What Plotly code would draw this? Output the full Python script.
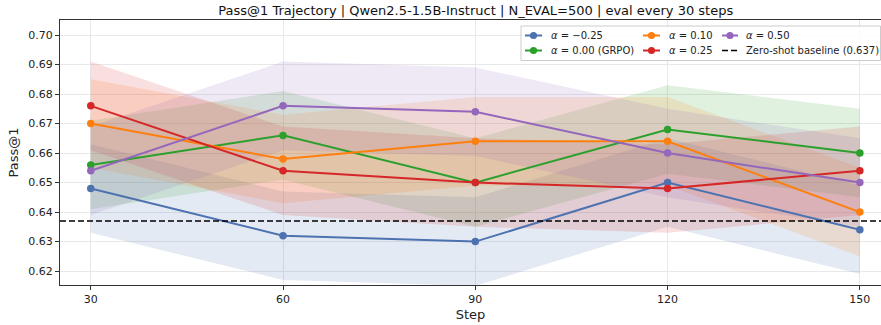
import plotly.graph_objects as go

# ---------------- data ----------------
steps = [30, 60, 90, 120, 150]
series_names = ["α = −0.25", "α = 0.00 (GRPO)", "α = 0.10", "α = 0.25", "α = 0.50"]
legend_labels = ["<i>α</i> = −0.25", "<i>α</i> = 0.00 (GRPO)", "<i>α</i> = 0.10",
                 "<i>α</i> = 0.25", "<i>α</i> = 0.50"]
pass_alpha_m025 = [0.648, 0.632, 0.630, 0.650, 0.634]
pass_alpha_000 = [0.656, 0.666, 0.650, 0.668, 0.660]
pass_alpha_010 = [0.670, 0.658, 0.664, 0.664, 0.640]
pass_alpha_025 = [0.676, 0.654, 0.650, 0.648, 0.654]
pass_alpha_050 = [0.654, 0.676, 0.674, 0.660, 0.650]
# half-width of the shaded band around each series
band_m025 = [0.015, 0.015, 0.015, 0.015, 0.015]
band_000 = [0.015, 0.015, 0.015, 0.015, 0.015]
band_010 = [0.015, 0.015, 0.015, 0.015, 0.015]
band_025 = [0.015, 0.015, 0.015, 0.015, 0.015]
band_050 = [0.015, 0.015, 0.015, 0.015, 0.015]
baseline = 0.637
baseline_label = "Zero-shot baseline (0.637)"
y_ticks = [0.62, 0.63, 0.64, 0.65, 0.66, 0.67, 0.68, 0.69, 0.70]

values = [pass_alpha_m025, pass_alpha_000, pass_alpha_010, pass_alpha_025, pass_alpha_050]
bands = [band_m025, band_000, band_010, band_025, band_050]
colors = ["#4C72B0", "#2ca02c", "#ff7f0e", "#d62728", "#9467bd"]
colors_rgb = [(76, 114, 176), (44, 160, 44), (255, 127, 14), (214, 39, 40), (148, 103, 189)]

FONT = "DejaVu Sans"
W, H = 881, 325
L, R, T, B = 60, 0, 20, 40
X_RANGE = [25.2, 153.3]

fig = go.Figure()

# shaded bands first (below every line)
for v, b, rgb in zip(values, bands, colors_rgb):
    upper = [a + d for a, d in zip(v, b)]
    lower = [a - d for a, d in zip(v, b)]
    fig.add_trace(go.Scatter(
        x=steps + steps[::-1], y=upper + lower[::-1], fill="toself",
        fillcolor=f"rgba({rgb[0]},{rgb[1]},{rgb[2]},0.15)", line=dict(width=0),
        mode="lines", hoverinfo="skip", showlegend=False))

for name, v, c in zip(series_names, values, colors):
    fig.add_trace(go.Scatter(
        x=steps, y=v, mode="lines+markers", name=name,
        line=dict(color=c, width=2), marker=dict(color=c, size=7.5),
        showlegend=False))

fig.add_trace(go.Scatter(
    x=X_RANGE, y=[baseline, baseline], mode="lines", name=baseline_label,
    line=dict(color="black", width=1.6, dash="6px,3px"), showlegend=False))

# -------- manual legend (matplotlib style, 3 columns) --------
pw = W - L - R
ph = H - T - B


def px(xp):
    return (xp - L) / pw


def py(yp):
    return (H - B - yp) / ph


shapes = []
annotations = []
shapes.append(dict(type="rect", xref="paper", yref="paper",
                   x0=px(521), x1=px(880.5), y0=py(60.5), y1=py(26),
                   line=dict(color="#cccccc", width=1), fillcolor="rgba(255,255,255,0.85)",
                   layer="above"))

col_handle = [(525, 542), (643, 660), (722, 738)]
col_text = [549, 667, 744]
row_y = [35.5, 50.5]
entries = [(0, 0, 0), (0, 1, 1), (1, 0, 2), (1, 1, 3), (2, 0, 4)]
for col, row, idx in entries:
    hx0, hx1 = col_handle[col]
    yy = row_y[row]
    shapes.append(dict(type="line", xref="paper", yref="paper",
                       x0=px(hx0), x1=px(hx1), y0=py(yy), y1=py(yy),
                       line=dict(color=colors[idx], width=2), layer="above"))
    cx = (hx0 + hx1) / 2
    r = 3.6
    shapes.append(dict(type="circle", xref="paper", yref="paper",
                       x0=px(cx - r), x1=px(cx + r), y0=py(yy + r), y1=py(yy - r),
                       line=dict(color=colors[idx], width=0), fillcolor=colors[idx],
                       layer="above"))
    annotations.append(dict(xref="paper", yref="paper", x=px(col_text[col]), y=py(yy),
                            text=legend_labels[idx], showarrow=False, xanchor="left",
                            yanchor="middle", font=dict(family=FONT, size=10, color="#222")))
# baseline legend entry
hx0, hx1 = col_handle[2]
yy = row_y[1]
shapes.append(dict(type="line", xref="paper", yref="paper",
                   x0=px(hx0), x1=px(hx1), y0=py(yy), y1=py(yy),
                   line=dict(color="black", width=1.6, dash="6px,3px"), layer="above"))
annotations.append(dict(xref="paper", yref="paper", x=px(col_text[2]), y=py(yy),
                        text=baseline_label, showarrow=False, xanchor="left",
                        yanchor="middle", font=dict(family=FONT, size=10, color="#222")))

fig.update_layout(
    width=W, height=H,
    margin=dict(l=L, r=R, t=T, b=B, autoexpand=False),
    paper_bgcolor="white", plot_bgcolor="white",
    font=dict(family=FONT, size=11, color="#222"),
    title=dict(text="Pass@1 Trajectory | Qwen2.5-1.5B-Instruct | N_EVAL=500 | eval every 30 steps",
               x=0.540, xanchor="center", xref="container",
               y=1 - 10 / H, yanchor="middle", font=dict(family=FONT, size=13, color="#111")),
    shapes=shapes, annotations=annotations,
    showlegend=False,
)
fig.update_xaxes(
    range=X_RANGE, tickvals=steps, ticks="outside", ticklen=4, tickcolor="#333",
    showline=True, linecolor="#333", linewidth=1, mirror=True, automargin=False,
    showgrid=True, gridcolor="#e8e8e8", gridwidth=1, zeroline=False,
    title=dict(text="Step", font=dict(family=FONT, size=13), standoff=4),
    tickfont=dict(family=FONT, size=11),
)
fig.update_yaxes(
    range=[0.6153, 0.7051], tickvals=y_ticks, tickformat=".2f", ticks="outside", ticklen=4,
    tickcolor="#333", showline=True, linecolor="#333", linewidth=1, mirror=False,
    automargin=False,
    showgrid=True, gridcolor="#e8e8e8", gridwidth=1, zeroline=False,
    title=dict(text="Pass@1", font=dict(family=FONT, size=13), standoff=6),
    tickfont=dict(family=FONT, size=11),
)

fig.write_html("out.html", config={"displayModeBar": False},
               post_script="document.body.style.margin='0';document.body.style.overflow='hidden';")
